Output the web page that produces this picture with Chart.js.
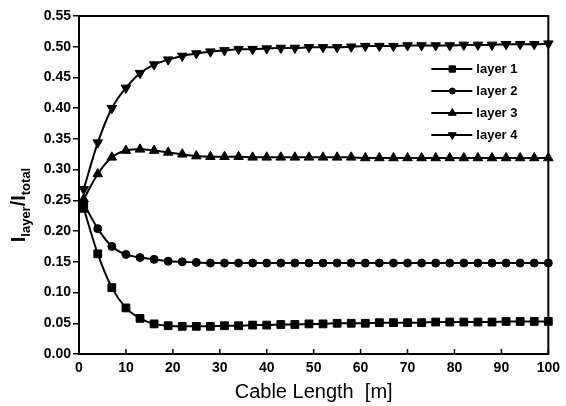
<!DOCTYPE html>
<html>
<head>
<meta charset="utf-8">
<script src="https://cdn.jsdelivr.net/npm/chart.js@4.4.0/dist/chart.umd.min.js"></script>
<style>
  html, body { margin: 0; padding: 0; background: #fff; }
</style>
</head>
<body>
<canvas id="chart" width="566" height="406"></canvas>
<script>
// ── Data ──
const cableLength = [1, 4, 7, 10, 13, 16, 19, 22, 25, 28, 31, 34, 37, 40, 43, 46, 49, 52, 55, 58,
  61, 64, 67, 70, 73, 76, 79, 82, 85, 88, 91, 94, 97, 100];

const layer1 = [0.237, 0.163, 0.108, 0.075, 0.058, 0.049, 0.046, 0.045, 0.045, 0.045,
  0.046, 0.046, 0.047, 0.047, 0.048, 0.048, 0.049, 0.049, 0.050, 0.050,
  0.050, 0.051, 0.051, 0.051, 0.051, 0.052, 0.052, 0.052, 0.052, 0.052,
  0.053, 0.053, 0.053, 0.053];
const layer2 = [0.245, 0.204, 0.175, 0.162, 0.157, 0.154, 0.151, 0.150, 0.149, 0.148,
  0.148, 0.148, 0.148, 0.148, 0.148, 0.148, 0.148, 0.148, 0.148, 0.148,
  0.148, 0.148, 0.148, 0.148, 0.148, 0.148, 0.148, 0.148, 0.148, 0.148,
  0.148, 0.148, 0.148, 0.148];
const layer3 = [0.252, 0.293, 0.320, 0.331, 0.333, 0.331, 0.328, 0.325, 0.322, 0.321,
  0.321, 0.321, 0.320, 0.320, 0.320, 0.320, 0.320, 0.320, 0.320, 0.320,
  0.319, 0.319, 0.319, 0.319, 0.319, 0.319, 0.319, 0.319, 0.319, 0.319,
  0.319, 0.319, 0.319, 0.319];
const layer4 = [0.268, 0.344, 0.400, 0.433, 0.457, 0.471, 0.479, 0.485, 0.489, 0.492,
  0.494, 0.496, 0.496, 0.497, 0.498, 0.498, 0.499, 0.499, 0.499, 0.500,
  0.501, 0.501, 0.501, 0.502, 0.502, 0.502, 0.502, 0.503, 0.503, 0.503,
  0.504, 0.504, 0.504, 0.505];

const xTicks = [0, 10, 20, 30, 40, 50, 60, 70, 80, 90, 100];
const yTicks = [0, 0.05, 0.10, 0.15, 0.20, 0.25, 0.30, 0.35, 0.40, 0.45, 0.50, 0.55];

const seriesLabels = ['layer 1', 'layer 2', 'layer 3', 'layer 4'];
const xTitle = 'Cable Length  [m]';

const FONT = "'Liberation Sans', Arial, Helvetica, sans-serif";

// ── Helpers ──
function mkds(label, values, style, rotation, radius) {
  return {
    label,
    data: values.map((v, i) => ({ x: cableLength[i], y: v })),
    borderColor: '#000', borderWidth: 2,
    pointStyle: style, pointRotation: rotation, pointRadius: radius,
    pointBackgroundColor: '#000', pointBorderColor: '#000', pointBorderWidth: 1,
    cubicInterpolationMode: 'monotone', fill: false, clip: false,
  };
}

// frame round the plot area + inward x ticks
const frame = {
  id: 'frame',
  afterDraw(chart) {
    const { ctx, chartArea: a } = chart;
    ctx.save();
    ctx.strokeStyle = '#000'; ctx.lineWidth = 2;
    ctx.strokeRect(a.left, a.top, a.right - a.left, a.bottom - a.top);
    const xs = chart.scales.x;
    ctx.lineWidth = 1.5;
    ctx.beginPath();
    for (const t of xs.ticks) {
      const px = xs.getPixelForValue(t.value);
      ctx.moveTo(px, a.bottom); ctx.lineTo(px, a.bottom - 5);
    }
    ctx.stroke();
    ctx.restore();
  },
};

// y title with subscripts: I_layer / I_total
const yTitle = {
  id: 'yTitle',
  afterDraw(chart) {
    const { ctx } = chart;
    const parts = [
      ['I', 'bold 20px ' + FONT, 0], ['layer', 'bold 13px ' + FONT, 5],
      ['/I', 'bold 20px ' + FONT, 0], ['total', 'bold 13px ' + FONT, 5],
    ];
    ctx.save();
    ctx.translate(25, 205);
    ctx.rotate(-Math.PI / 2);
    ctx.fillStyle = '#000';
    ctx.textBaseline = 'alphabetic';
    let w = 0;
    for (const p of parts) { ctx.font = p[1]; w += ctx.measureText(p[0]).width; }
    let x = -w / 2;
    for (const p of parts) {
      ctx.font = p[1];
      ctx.fillText(p[0], x, p[2]);
      x += ctx.measureText(p[0]).width;
    }
    ctx.restore();
  },
};

// legend: line + marker + label, upper right inside the plot
const legendBox = {
  id: 'legendBox',
  afterDraw(chart) {
    const { ctx, chartArea: a } = chart;
    const x0 = a.right - 117, y0 = a.top + 53;
    ctx.save();
    ctx.font = 'bold 13px ' + FONT;
    ctx.textBaseline = 'middle';
    chart.data.datasets.forEach((ds, i) => {
      const y = y0 + i * 22;
      ctx.strokeStyle = '#000'; ctx.fillStyle = '#000'; ctx.lineWidth = 2;
      ctx.beginPath(); ctx.moveTo(x0, y); ctx.lineTo(x0 + 41, y); ctx.stroke();
      ctx.lineWidth = 1;
      Chart.helpers.drawPoint(ctx, {
        pointStyle: ds.pointStyle, rotation: ds.pointRotation, radius: ds.pointRadius - 1, borderWidth: 1,
      }, x0 + 21, y);
      ctx.fillStyle = '#000';
      ctx.fillText(ds.label, x0 + 45, y);
    });
    ctx.restore();
  },
};

new Chart(document.getElementById('chart'), {
  type: 'line',
  data: {
    datasets: [
      mkds(seriesLabels[0], layer1, 'rect', 0, 5.5),
      mkds(seriesLabels[1], layer2, 'circle', 0, 4),
      mkds(seriesLabels[2], layer3, 'triangle', 0, 5.5),
      mkds(seriesLabels[3], layer4, 'triangle', 180, 5.5),
    ],
  },
  options: {
    responsive: false, animation: false, devicePixelRatio: 1,
    layout: { padding: { top: 16, right: 17, left: 0, bottom: 0 } },
    plugins: { legend: { display: false }, tooltip: { enabled: false } },
    scales: {
      x: {
        type: 'linear', min: 0, max: 100,
        afterBuildTicks: s => { s.ticks = xTicks.map(v => ({ value: v })); },
        afterFit: s => { s.height = 52; },
        grid: { display: false, drawTicks: false },
        border: { display: false },
        ticks: { color: '#000', padding: 6, font: { family: FONT, size: 14, weight: 'bold' } },
        title: {
          display: true, text: xTitle, color: '#000', padding: { top: 0, bottom: 2 },
          font: { family: FONT, size: 20 },
        },
      },
      y: {
        type: 'linear', min: 0, max: 0.55,
        afterBuildTicks: s => { s.ticks = yTicks.map(v => ({ value: v })); },
        afterFit: s => { s.width = 79; },
        grid: { display: true, drawOnChartArea: false, drawTicks: true, tickLength: 6, color: '#000', lineWidth: 1.5 },
        border: { display: false },
        ticks: {
          color: '#000', padding: 2, font: { family: FONT, size: 14, weight: 'bold' },
          callback: v => v.toFixed(2),
        },
      },
    },
  },
  plugins: [frame, yTitle, legendBox],
});
</script>
</body>
</html>
